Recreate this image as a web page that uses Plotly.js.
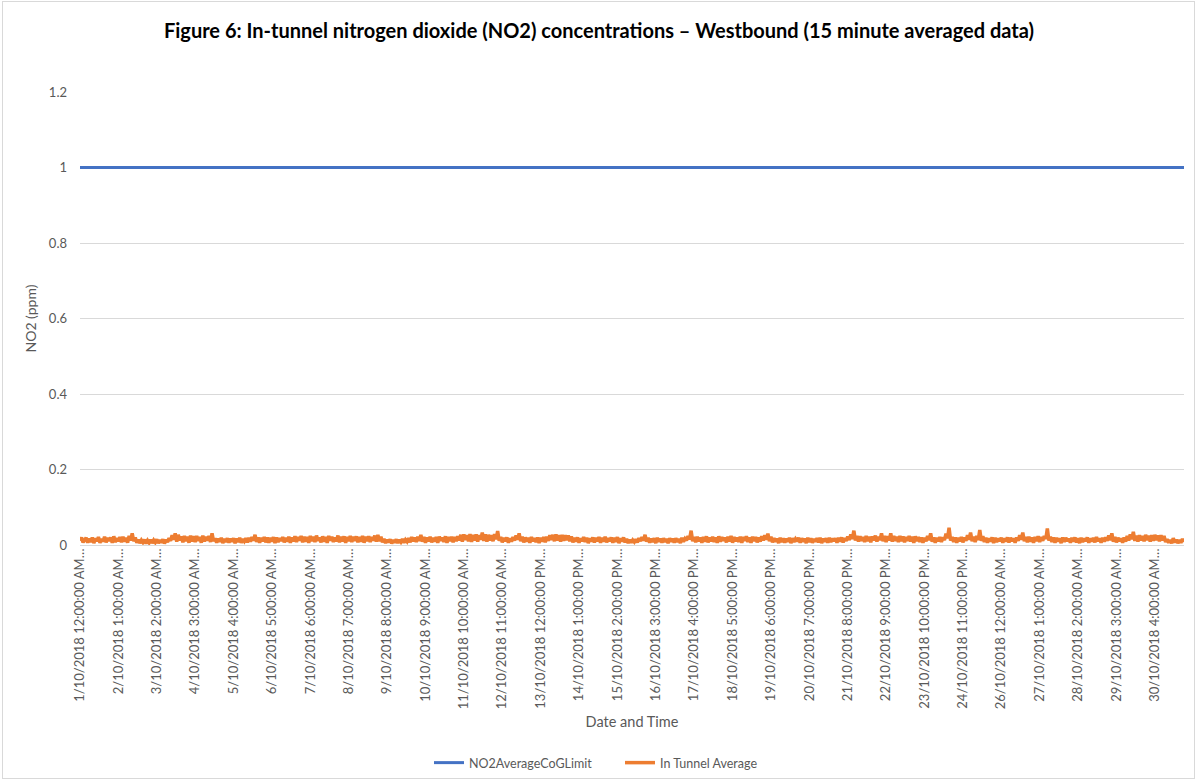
<!DOCTYPE html>
<html>
<head>
<meta charset="utf-8">
<script src="https://cdn.plot.ly/plotly-3.0.1.min.js"></script>
<style>
  html, body { margin: 0; padding: 0; background: #fff; }
  #chart { width: 1198px; height: 782px; }
  #frame { position: absolute; left: 2px; top: 1px; width: 1193px; height: 778px; border: 1px solid #d9d9d9; pointer-events: none; box-sizing: border-box; }
</style>
</head>
<body>
<div id="chart"></div>
<div id="frame"></div>
<script>
// Hourly readings (ppm), starting 1/10/2018 12:00:00 AM
const inTunnelAverage = [
0.011,0.020,0.007,
0.012,0.019,0.006,0.017,0.008,0.020,0.005,0.018,0.010,0.021,0.006,0.016,0.009,0.022,0.007,0.019,0.011,0.020,0.006,0.023,0.008,0.018,0.010,0.021,
0.007,0.022,0.009,0.019,0.006,0.024,0.012,0.031,0.010,0.020,0.006,0.014,0.005,0.013,0.007,0.014,0.004,0.012,0.006,0.014,0.005,0.013,0.007,0.015,
0.005,0.013,0.006,0.015,0.004,0.014,0.008,0.018,0.011,0.026,0.014,0.031,0.009,0.027,0.012,0.023,0.007,0.024,0.010,0.022,0.006,0.025,0.009,0.023,
0.008,0.024,0.011,0.021,0.006,0.025,0.009,0.022,0.012,0.024,0.008,0.031,0.010,0.018,0.006,0.017,0.009,0.019,0.005,0.016,0.008,0.018,0.006,0.017,
0.009,0.018,0.005,0.017,0.008,0.019,0.006,0.016,0.010,0.018,0.007,0.019,0.009,0.021,0.012,0.027,0.008,0.020,0.006,0.019,0.010,0.021,0.007,0.020,
0.006,0.019,0.009,0.021,0.005,0.020,0.008,0.018,0.011,0.021,0.007,0.019,0.009,0.022,0.006,0.020,0.010,0.023,0.008,0.021,0.012,0.024,0.007,0.022,
0.009,0.021,0.006,0.024,0.010,0.022,0.008,0.025,0.011,0.020,0.007,0.023,0.009,0.021,0.006,0.024,0.012,0.022,0.008,0.020,0.010,0.025,0.007,0.022,
0.009,0.023,0.006,0.021,0.010,0.024,0.008,0.022,0.011,0.023,0.007,0.021,0.009,0.024,0.006,0.022,0.010,0.023,0.008,0.021,0.012,0.025,0.009,0.027,
0.010,0.022,0.007,0.016,0.005,0.014,0.007,0.015,0.004,0.013,0.006,0.015,0.005,0.014,0.008,0.016,0.006,0.014,0.009,0.018,0.007,0.021,0.010,0.020,
0.008,0.022,0.011,0.027,0.009,0.021,0.006,0.020,0.010,0.022,0.007,0.019,0.009,0.021,0.006,0.022,0.011,0.020,0.008,0.023,0.006,0.021,0.010,0.022,
0.007,0.021,0.010,0.023,0.012,0.027,0.009,0.028,0.013,0.026,0.010,0.029,0.008,0.027,0.012,0.028,0.009,0.026,0.014,0.033,0.011,0.028,0.009,0.027,
0.012,0.026,0.010,0.029,0.015,0.037,0.011,0.021,0.007,0.019,0.010,0.020,0.006,0.018,0.009,0.021,0.012,0.025,0.014,0.031,0.010,0.022,0.007,0.020,
0.009,0.019,0.006,0.021,0.010,0.018,0.008,0.020,0.005,0.019,0.009,0.021,0.007,0.022,0.011,0.026,0.013,0.027,0.010,0.028,0.012,0.026,0.009,0.027,
0.011,0.026,0.013,0.025,0.010,0.023,0.007,0.019,0.009,0.020,0.006,0.018,0.010,0.021,0.008,0.019,0.005,0.018,0.009,0.020,0.007,0.019,0.010,0.021,
0.006,0.019,0.009,0.022,0.007,0.018,0.010,0.020,0.006,0.019,0.008,0.021,0.005,0.018,0.009,0.020,0.007,0.016,0.005,0.014,0.006,0.013,0.008,0.015,
0.007,0.018,0.010,0.021,0.012,0.027,0.009,0.019,0.006,0.017,0.008,0.018,0.005,0.019,0.009,0.017,0.006,0.018,0.008,0.016,0.005,0.018,0.009,0.017,
0.006,0.018,0.008,0.016,0.005,0.019,0.009,0.017,0.012,0.024,0.015,0.038,0.010,0.021,0.007,0.022,0.010,0.020,0.006,0.021,0.009,0.023,0.007,0.020,
0.010,0.022,0.008,0.020,0.006,0.023,0.009,0.021,0.011,0.020,0.007,0.022,0.009,0.024,0.006,0.021,0.010,0.020,0.008,0.022,0.006,0.021,0.011,0.023,
0.008,0.020,0.006,0.022,0.010,0.021,0.007,0.020,0.009,0.023,0.012,0.026,0.014,0.030,0.010,0.022,0.007,0.018,0.009,0.017,0.005,0.019,0.008,0.018,
0.006,0.017,0.009,0.019,0.005,0.018,0.008,0.016,0.010,0.019,0.006,0.018,0.009,0.017,0.005,0.019,0.008,0.018,0.006,0.016,0.009,0.018,0.007,0.019,
0.005,0.017,0.009,0.018,0.006,0.019,0.008,0.017,0.010,0.018,0.006,0.019,0.009,0.020,0.007,0.018,0.011,0.022,0.013,0.028,0.016,0.038,0.012,0.024,
0.009,0.023,0.011,0.021,0.008,0.024,0.010,0.022,0.007,0.023,0.012,0.025,0.009,0.022,0.013,0.031,0.010,0.024,0.008,0.023,0.012,0.031,0.009,0.024,
0.011,0.022,0.008,0.024,0.010,0.023,0.007,0.021,0.011,0.024,0.009,0.022,0.006,0.023,0.010,0.021,0.008,0.020,0.006,0.019,0.010,0.024,0.013,0.031,
0.009,0.020,0.006,0.019,0.010,0.021,0.008,0.020,0.013,0.030,0.018,0.046,0.012,0.021,0.008,0.020,0.006,0.019,0.010,0.021,0.007,0.020,0.011,0.026,
0.014,0.033,0.010,0.022,0.008,0.024,0.013,0.040,0.011,0.023,0.008,0.019,0.006,0.018,0.009,0.020,0.005,0.019,0.008,0.017,0.010,0.019,0.006,0.018,
0.009,0.020,0.007,0.019,0.010,0.018,0.006,0.020,0.011,0.026,0.014,0.033,0.010,0.021,0.007,0.022,0.009,0.020,0.006,0.021,0.010,0.023,0.008,0.021,
0.011,0.024,0.016,0.044,0.012,0.022,0.008,0.020,0.006,0.019,0.009,0.018,0.005,0.020,0.008,0.019,0.010,0.017,0.006,0.019,0.009,0.020,0.007,0.018,
0.005,0.019,0.008,0.017,0.010,0.020,0.006,0.018,0.009,0.019,0.007,0.021,0.010,0.018,0.006,0.019,0.009,0.020,0.011,0.025,0.013,0.031,0.009,0.021,
0.007,0.019,0.010,0.018,0.006,0.020,0.009,0.024,0.012,0.028,0.015,0.035,0.011,0.025,0.009,0.026,0.012,0.024,0.010,0.027,0.013,0.025,0.009,0.026,
0.011,0.027,0.013,0.025,0.010,0.026,0.012,0.024,0.008,0.015,0.006,0.013,0.005,0.018,0.007,0.014,0.005,0.013,0.006,0.016,0.008
];

// Limit (ppm)
const no2AverageCoGLimit = 1;

// Category labels shown every 25 hours
const tickLabels = [
"1/10/2018 12:00:00 AM…","2/10/2018 1:00:00 AM…","3/10/2018 2:00:00 AM…","4/10/2018 3:00:00 AM…",
"5/10/2018 4:00:00 AM…","6/10/2018 5:00:00 AM…","7/10/2018 6:00:00 AM…","8/10/2018 7:00:00 AM…",
"9/10/2018 8:00:00 AM…","10/10/2018 9:00:00 AM…","11/10/2018 10:00:00 AM…","12/10/2018 11:00:00 AM…",
"13/10/2018 12:00:00 PM…","14/10/2018 1:00:00 PM…","15/10/2018 2:00:00 PM…","16/10/2018 3:00:00 PM…",
"17/10/2018 4:00:00 PM…","18/10/2018 5:00:00 PM…","19/10/2018 6:00:00 PM…","20/10/2018 7:00:00 PM…",
"21/10/2018 8:00:00 PM…","22/10/2018 9:00:00 PM…","23/10/2018 10:00:00 PM…","24/10/2018 11:00:00 PM…",
"26/10/2018 12:00:00 AM…","27/10/2018 1:00:00 AM…","28/10/2018 2:00:00 AM…","29/10/2018 3:00:00 AM…",
"30/10/2018 4:00:00 AM…"
];
const hoursPerLabel = 25;

const hours = inTunnelAverage.map((_, i) => i);
const limitSeries = inTunnelAverage.map(() => no2AverageCoGLimit);

const FONT = "Lato, 'Open Sans', sans-serif";
const GREY = "#595959";

const traces = [
  { x: hours, y: limitSeries, type: "scatter", mode: "lines", name: "NO2AverageCoGLimit",
    line: { color: "#4472C4", width: 3 } },
  { x: hours, y: inTunnelAverage, type: "scatter", mode: "lines", name: "In Tunnel Average",
    line: { color: "#ED7D31", width: 3.5 } }
];

const layout = {
  width: 1198, height: 782,
  paper_bgcolor: "#fff", plot_bgcolor: "#fff",
  margin: { l: 80, r: 14, t: 92, b: 237 },
  font: { family: FONT, color: GREY, size: 12 },
  title: { text: "<b>Figure 6: In-tunnel nitrogen dioxide (NO2) concentrations – Westbound (15 minute averaged data)</b>",
           font: { family: FONT, size: 20, color: "#000" }, x: 0.5, xanchor: "center", y: 0.96, yanchor: "middle" },
  xaxis: {
    range: [0, hours[hours.length - 1]],
    tickmode: "array",
    tickvals: tickLabels.map((_, k) => k * hoursPerLabel),
    ticktext: tickLabels,
    tickangle: -90,
    tickfont: { size: 13, color: GREY },
    showgrid: false, zeroline: false, showline: false, ticks: "",
    title: { text: "Date and Time", font: { size: 14.5, color: GREY }, standoff: 8 }
  },
  yaxis: {
    range: [0, 1.2], dtick: 0.2, tick0: 0,
    tickfont: { size: 13, color: GREY },
    gridcolor: "#d9d9d9", gridwidth: 1,
    zeroline: true, zerolinecolor: "#d9d9d9", zerolinewidth: 1,
    showline: false, ticks: "", ticklabelstandoff: 12,
    title: { text: "NO2 (ppm)", font: { size: 14, color: GREY }, standoff: 8 }
  },
  showlegend: true,
  legend: { orientation: "h", x: 429 / 1198, xanchor: "left", xref: "container",
            y: 1 - 763 / 782, yref: "container", yanchor: "middle",
            entrywidth: 146, entrywidthmode: "pixels",
            font: { size: 12.5, color: GREY } }
};

Plotly.newPlot("chart", traces, layout, { staticPlot: true, displayModeBar: false });
</script>
</body>
</html>
